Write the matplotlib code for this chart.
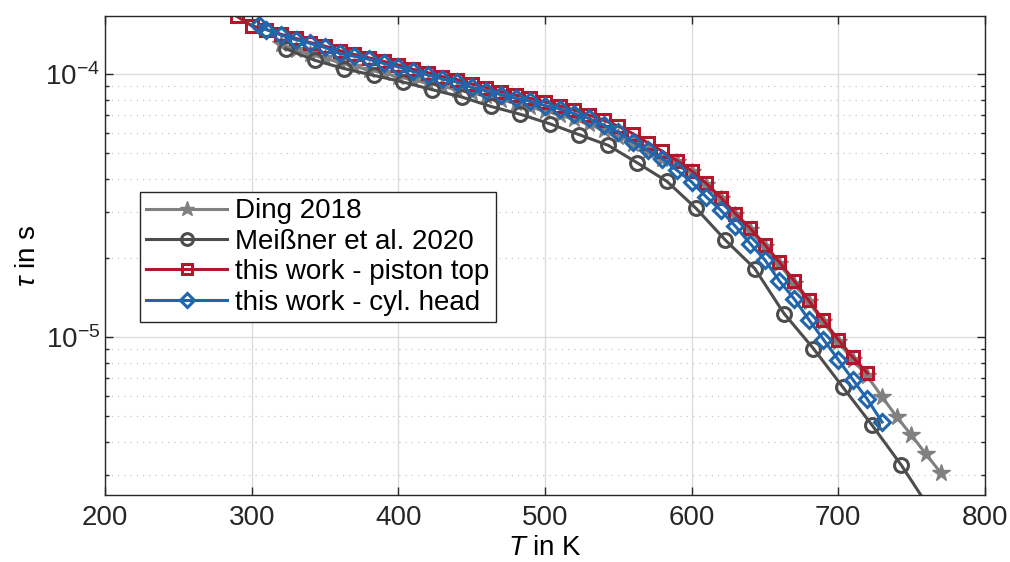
import matplotlib
matplotlib.use("Agg")
import matplotlib.pyplot as plt
from matplotlib.ticker import LogLocator, NullFormatter, FixedLocator

plt.rcParams['font.family'] = ['Liberation Sans', 'DejaVu Sans']
plt.rcParams['mathtext.fontset'] = 'custom'
plt.rcParams['mathtext.rm'] = 'Liberation Sans'
plt.rcParams['mathtext.it'] = 'Liberation Sans:italic'
plt.rcParams['axes.unicode_minus'] = False
plt.rcParams['font.size'] = 20

# Ding 2018
T_ding = [320, 330, 340, 350, 360, 370, 380, 390, 400, 410, 420, 430, 440, 450,
          460, 470, 480, 490, 500, 510, 520, 530, 540, 550, 560, 570, 580, 590,
          600, 610, 620, 630, 640, 650, 660, 670, 680, 690, 700, 710, 720, 730,
          740, 750, 760, 770]
tau_ding = [1.30e-4, 1.24e-4, 1.19e-4, 1.15e-4, 1.11e-4, 1.07e-4, 1.04e-4, 1.01e-4,
            9.8e-5, 9.5e-5, 9.25e-5, 9.0e-5, 8.75e-5, 8.5e-5, 8.25e-5, 8.0e-5,
            7.75e-5, 7.5e-5, 7.25e-5, 7.0e-5, 6.75e-5, 6.45e-5, 6.15e-5, 5.8e-5,
            5.45e-5, 5.1e-5, 4.75e-5, 4.65e-5, 4.25e-5, 3.8e-5, 3.35e-5, 2.92e-5,
            2.55e-5, 2.2e-5, 1.9e-5, 1.6e-5, 1.36e-5, 1.14e-5, 9.6e-6, 8.2e-6,
            7.1e-6, 5.93e-6, 4.98e-6, 4.24e-6, 3.59e-6, 3.05e-6]

# Meissner et al. 2020
T_mei = [323.15, 343.15, 363.15, 383.15, 403.15, 423.15, 443.15, 463.15, 483.15,
         503.15, 523.15, 543.15, 563.15, 583.15, 603.15, 623.15, 643.15, 663.15,
         683.15, 703.15, 723.15, 743.15, 763.15]
tau_mei = [1.252e-4, 1.13e-4, 1.051e-4, 9.91e-5, 9.35e-5, 8.74e-5, 8.2e-5, 7.55e-5,
           7.05e-5, 6.49e-5, 5.9e-5, 5.37e-5, 4.6e-5, 3.92e-5, 3.09e-5, 2.34e-5,
           1.825e-5, 1.23e-5, 9.06e-6, 6.47e-6, 4.63e-6, 3.26e-6, 2.2e-6]

# this work - piston top
T_pist = [290, 300, 310, 320, 330, 340, 350, 360, 370, 380, 390, 400, 410, 420,
          430, 440, 450, 460, 470, 480, 490, 500, 510, 520, 530, 540, 550, 560,
          570, 580, 590, 600, 610, 620, 630, 640, 650, 660, 670, 680, 690, 700,
          710, 720]
tau_pist = [1.66e-4, 1.53e-4, 1.48e-4, 1.42e-4, 1.37e-4, 1.32e-4, 1.28e-4, 1.23e-4,
            1.19e-4, 1.155e-4, 1.12e-4, 1.085e-4, 1.045e-4, 1.015e-4, 9.8e-5,
            9.55e-5, 9.2e-5, 8.9e-5, 8.6e-5, 8.35e-5, 8.1e-5, 7.85e-5, 7.6e-5,
            7.3e-5, 7.0e-5, 6.7e-5, 6.35e-5, 5.95e-5, 5.5e-5, 5.1e-5, 4.7e-5,
            4.3e-5, 3.85e-5, 3.4e-5, 2.95e-5, 2.6e-5, 2.25e-5, 1.93e-5, 1.64e-5,
            1.38e-5, 1.16e-5, 9.8e-6, 8.4e-6, 7.3e-6]

# this work - cyl. head
T_cyl = [305, 310, 320, 330, 340, 350, 360, 370, 380, 390, 400, 410, 420, 430,
         440, 450, 460, 470, 480, 490, 500, 510, 520, 530, 540, 550, 560, 570,
         580, 590, 600, 610, 620, 630, 640, 650, 660, 670, 680, 690, 700, 710,
         720, 730]
tau_cyl = [1.54e-4, 1.48e-4, 1.41e-4, 1.355e-4, 1.31e-4, 1.265e-4, 1.20e-4, 1.17e-4,
           1.14e-4, 1.10e-4, 1.067e-4, 1.025e-4, 9.95e-5, 9.6e-5, 9.35e-5, 8.92e-5,
           8.65e-5, 8.37e-5, 8.12e-5, 7.9e-5, 7.6e-5, 7.4e-5, 7.07e-5, 6.8e-5,
           6.4e-5, 6.03e-5, 5.53e-5, 5.14e-5, 4.78e-5, 4.32e-5, 3.90e-5, 3.42e-5,
           3.04e-5, 2.64e-5, 2.27e-5, 1.97e-5, 1.635e-5, 1.40e-5, 1.167e-5, 9.8e-6,
           8.23e-6, 6.9e-6, 5.8e-6, 4.76e-6]

x_ticks = [200, 300, 400, 500, 600, 700, 800]

fig = plt.figure(figsize=(10.1, 5.62), dpi=100)
ax = fig.add_axes([0.104, 0.119, 0.871, 0.853])

lw = 2.2
ax.plot(T_ding, tau_ding, color="#808080", lw=lw, marker="*", ms=13,
        mfc="#808080", mec="#808080", label="Ding 2018")
ax.plot(T_mei, tau_mei, color="#4d4d4d", lw=lw, marker="o", ms=10,
        mfc="none", mew=2.2, label="Meißner et al. 2020")
ax.plot(T_pist, tau_pist, color="#b2182b", lw=lw, marker="s", ms=9,
        mfc="none", mew=2.2, label="this work - piston top")
ax.plot(T_cyl, tau_cyl, color="#2166ac", lw=lw, marker="D", ms=8,
        mfc="none", mew=2.2, label="this work - cyl. head")

ax.set_yscale("log")
ax.set_xlim(200, 800)
ax.set_ylim(2.51e-6, 1.67e-4)
ax.xaxis.set_major_locator(FixedLocator(x_ticks))
ax.yaxis.set_major_locator(LogLocator(base=10))
ax.yaxis.set_minor_locator(LogLocator(base=10, subs=range(2, 10)))
ax.yaxis.set_minor_formatter(NullFormatter())

ax.grid(True, which="major", color="#dcdcdc", lw=1.0, ls="-")
ax.grid(True, which="minor", axis="y", color="#c8c8c8", lw=0.9, ls=(0, (1, 4)))
ax.set_axisbelow(True)
ax.tick_params(which="both", direction="in", top=True, right=True, width=1.0,
               colors="#262626", labelcolor="#262626")
ax.tick_params(which="major", length=6, labelsize=20)
ax.tick_params(axis="x", which="major", pad=7)
ax.tick_params(which="minor", length=3)
for s in ax.spines.values():
    s.set_color("#262626")
    s.set_linewidth(1.0)

ax.set_xlabel(r"$T$ in K", fontsize=20, labelpad=3)
ax.set_ylabel(r"$\tau$ in s", fontsize=20, labelpad=3)

leg = ax.legend(loc="upper left", bbox_to_anchor=(0.040, 0.632), borderaxespad=0,
                fancybox=False, framealpha=1, edgecolor="#262626",
                handlelength=2.9, labelspacing=0.16, borderpad=0.22,
                handletextpad=0.3, fontsize=20, markerscale=0.85)
leg.get_frame().set_linewidth(1.0)

fig.savefig("out.png", dpi=100)
